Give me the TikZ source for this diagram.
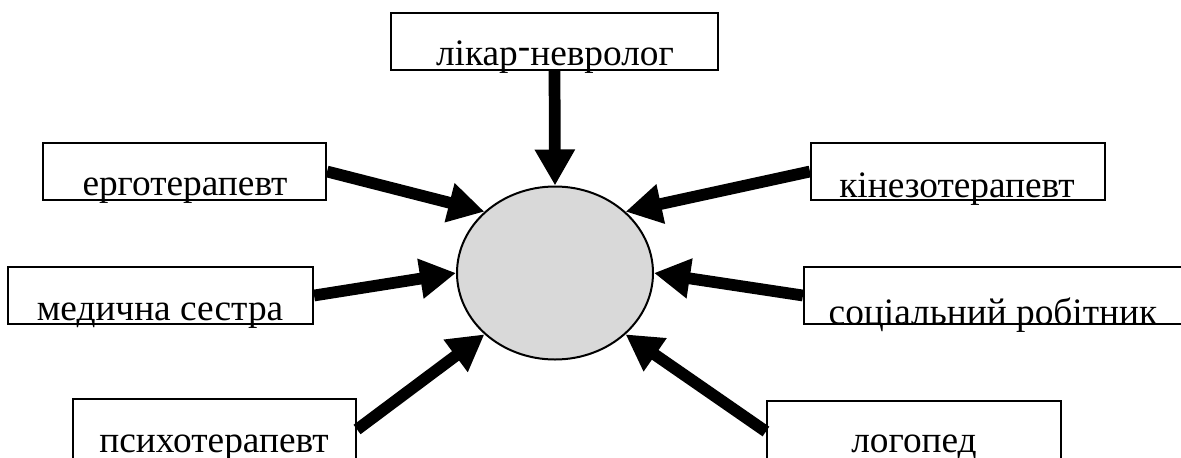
\documentclass[tikz,border=0pt]{standalone}
\usepackage{fontspec}
\setmainfont{Liberation Serif}
\usetikzlibrary{arrows.meta,shapes.geometric,fit}
\begin{document}
\begin{tikzpicture}[x=0.75pt,y=-0.75pt,
  box/.style={draw,line width=1.6pt,rectangle,inner sep=0pt},
  lbl/.style={anchor=base,inner sep=0pt,font=\fontsize{28}{32}\selectfont},
  arr/.style={line width=8.8pt,-{Triangle[length=27pt,width=28.5pt]}},
  hub/.style={ellipse,draw,line width=1.5pt,fill=black!15,inner sep=0pt,
    minimum width=147pt,minimum height=129.75pt}]
\clip (0,0) rectangle (1181,457);
\fill[white] (0,0) rectangle (1181,457);
% central ellipse
\node[hub] (c) at (555,273) {};
% boxes
\node[box,fit={(391,13) (718,70)}] (neuro) {};
\node[box,fit={(43,143) (326,200)}] (ergo) {};
\node[box,fit={(8,267) (313,324)}] (med) {};
\node[box,fit={(73,399) (356,460)}] (psy) {};
\node[box,fit={(811,143) (1105,200)}] (kin) {};
\node[box,fit={(804,267) (1185,324)}] (soc) {};
\node[box,fit={(767,401) (1061,462)}] (log) {};
% labels
\node[lbl] (neuro-t) at (555,65) {лікар\raisebox{0.17em}{-}невролог};
\node[lbl] (ergo-t) at (185,195) {ерготерапевт};
\node[lbl] (med-t) at (160,320) {медична сестра};
\node[lbl] (psy-t) at (214,452) {психотерапевт};
\node[lbl] (kin-t) at (957,197) {кінезотерапевт};
\node[lbl] (soc-t) at (993,324) {соціальний робітник};
\node[lbl] (log-t) at (914,452) {логопед};
% arrows
\draw[arr] (neuro.south) -- (c.north);
\draw[arr] (ergo.east) -- (c.139);
\draw[arr] (med.east) -- (c.west);
\draw[arr] (psy.east) -- (c.221);
\draw[arr] (kin.west) -- (c.41);
\draw[arr] (soc.west) -- (c.east);
\draw[arr] (log.west) -- (c.319);
\end{tikzpicture}
\end{document}
